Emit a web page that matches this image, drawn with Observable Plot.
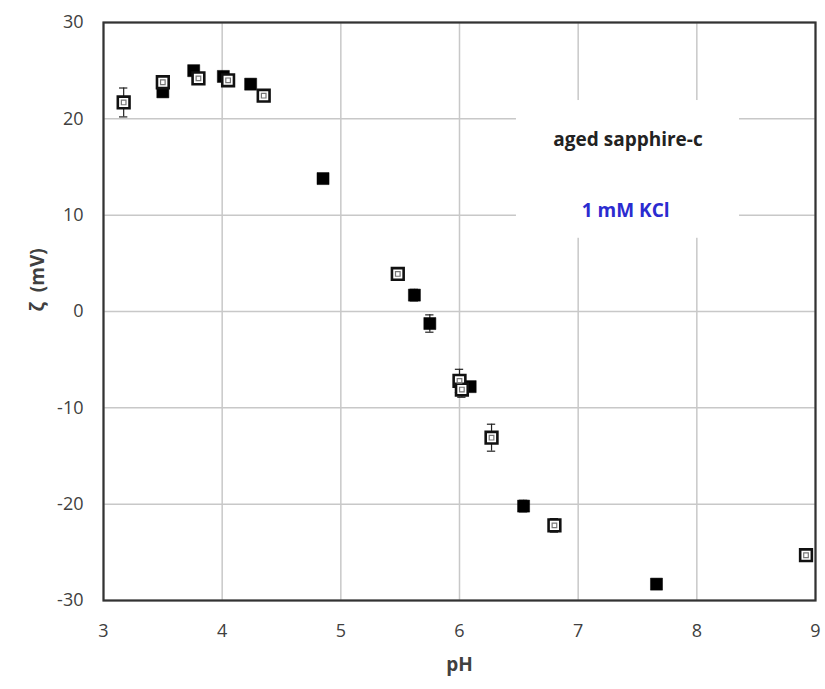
<!DOCTYPE html>
<html>
<head>
<meta charset="utf-8">
<script src="https://cdn.jsdelivr.net/npm/d3@7"></script>
<script src="https://cdn.jsdelivr.net/npm/@observablehq/plot@0.6"></script>
<style>
  html, body { margin: 0; padding: 0; background: #fff; }
  #chart svg { display: block; }
</style>
</head>
<body>
<div id="chart"></div>
<script>
// Zeta potential of aged sapphire-c vs pH in 1 mM KCl (two measurement runs)
const openPH   = [3.17, 3.50, 3.80, 4.05, 4.35, 5.48, 6.00, 6.02, 6.27, 6.80, 8.92];
const openZeta = [21.7, 23.8, 24.2, 24.0, 22.4, 3.9, -7.2, -8.1, -13.1, -22.2, -25.3];
const openErr  = [1.5, 0.6, 0.6, 0.5, 0.5, 0.5, 1.2, 0.8, 1.4, 0.7, 0.5];

const filledPH   = [3.50, 3.76, 4.01, 4.24, 4.85, 5.62, 5.75, 6.09, 6.54, 7.66];
const filledZeta = [22.8, 25.0, 24.4, 23.6, 13.8, 1.7, -1.25, -7.8, -20.2, -28.3];
const filledErr  = [0.5, 0.5, 0.5, 0.5, 0.4, 0.6, 0.9, 0.5, 0.6, 0.5];

const xTicks = [3, 4, 5, 6, 7, 8, 9];
const yTicks = [-30, -20, -10, 0, 10, 20, 30];

const sampleLabel = "aged sapphire-c";
const saltLabel = "1 mM KCl";
const xLabel = "pH";
const yLabel = "ζ  (mV)";

const openData = openPH.map((x, i) => ({x, y: openZeta[i], e: openErr[i]}));
const filledData = filledPH.map((x, i) => ({x, y: filledZeta[i], e: filledErr[i]}));

const axisColor = "#404040";
const capHalf = 0.035; // half-width of error-bar caps, in pH units

function errorBars(data) {
  return [
    Plot.ruleX(data, {x: "x", y1: d => d.y - d.e, y2: d => d.y + d.e, stroke: "#222", strokeWidth: 1.2}),
    Plot.ruleY(data, {y: d => d.y + d.e, x1: d => d.x - capHalf, x2: d => d.x + capHalf, stroke: "#222", strokeWidth: 1.2}),
    Plot.ruleY(data, {y: d => d.y - d.e, x1: d => d.x - capHalf, x2: d => d.x + capHalf, stroke: "#222", strokeWidth: 1.2})
  ];
}

const chart = Plot.plot({
  width: 825,
  height: 689,
  marginLeft: 103,
  marginRight: 10,
  marginTop: 22,
  marginBottom: 89,
  style: {fontFamily: "'Open Sans', sans-serif", fontSize: "18px", color: axisColor, background: "#fff"},
  x: {type: "linear", domain: [3, 9]},
  y: {type: "linear", domain: [-30, 30]},
  marks: [
    Plot.gridX(xTicks, {stroke: "#c8c8c8", strokeOpacity: 1, strokeWidth: 1.5}),
    Plot.gridY(yTicks, {stroke: "#c8c8c8", strokeOpacity: 1, strokeWidth: 1.5}),
    // white panel behind the annotation
    Plot.rect([0], {x1: 6.48, x2: 8.36, y1: 7.6, y2: 21.9, fill: "white"}),
    Plot.text([sampleLabel], {text: d => d, x: 7.42, y: 17.8, fontWeight: "bold", fontSize: 19, fill: "#222"}),
    Plot.text([saltLabel], {text: d => d, x: 7.40, y: 10.4, fontWeight: "bold", fontSize: 19, fill: "#2b2bd0"}),
    Plot.axisX(xTicks, {tickSize: 0, tickPadding: 24, fontSize: 18, fill: axisColor, label: null, tickFormat: d => String(d)}),
    Plot.axisY(yTicks, {tickSize: 0, tickPadding: 20, fontSize: 18, fill: axisColor, label: null, tickFormat: d => String(d)}),
    Plot.text([xLabel], {text: d => d, frameAnchor: "bottom", lineAnchor: "middle", dy: 64, fontWeight: "bold", fontSize: 19, fill: axisColor}),
    Plot.text([yLabel], {text: d => d, frameAnchor: "left", dx: -66, rotate: -90, fontWeight: "bold", fontSize: 19, fill: axisColor}),
    ...errorBars(openData),
    ...errorBars(filledData),
    // filled squares
    Plot.dot(filledData, {x: "x", y: "y", symbol: "square", r: 6.8, fill: "#000", stroke: "#000", strokeWidth: 0.5}),
    // open squares with small inner square
    Plot.dot(openData, {x: "x", y: "y", symbol: "square", r: 6.6, fill: "#fff", stroke: "#111", strokeWidth: 2.6}),
    Plot.dot(openData, {x: "x", y: "y", symbol: "square", r: 2.6, fill: "none", stroke: "#777", strokeWidth: 1.2}),
    Plot.frame({stroke: "#333", strokeWidth: 2.2})
  ]
});

document.getElementById("chart").appendChild(chart);
</script>
</body>
</html>
